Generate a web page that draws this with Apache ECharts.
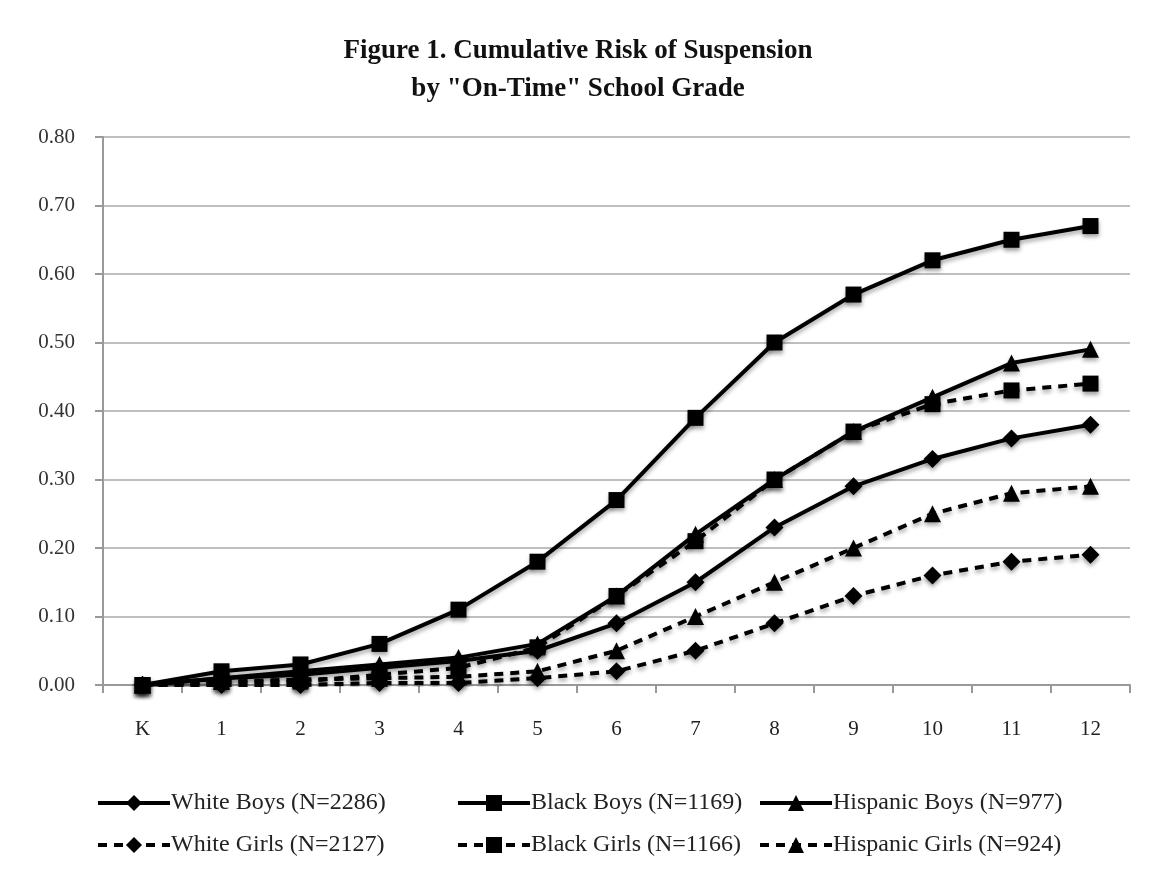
<!DOCTYPE html>
<html><head><meta charset="utf-8">
<script src="https://cdn.jsdelivr.net/npm/echarts@6/dist/echarts.min.js"></script>
<style>html,body{margin:0;padding:0;background:#fff}#c{width:1156px;height:871px}</style>
</head><body><div id="c"></div>
<script>
const grades = ['K','1','2','3','4','5','6','7','8','9','10','11','12'];
const yTicks = ['0.00','0.10','0.20','0.30','0.40','0.50','0.60','0.70','0.80'];
const whiteBoys = [0, 0.01, 0.015, 0.025, 0.035, 0.05, 0.09, 0.15, 0.23, 0.29, 0.33, 0.36, 0.38];
const blackBoys = [0, 0.02, 0.03, 0.06, 0.11, 0.18, 0.27, 0.39, 0.50, 0.57, 0.62, 0.65, 0.67];
const hispanicBoys = [0, 0.01, 0.02, 0.03, 0.04, 0.06, 0.13, 0.22, 0.30, 0.37, 0.42, 0.47, 0.49];
const whiteGirls = [0, 0, 0, 0.003, 0.003, 0.01, 0.02, 0.05, 0.09, 0.13, 0.16, 0.18, 0.19];
const blackGirls = [0, 0.005, 0.005, 0.015, 0.025, 0.055, 0.13, 0.21, 0.30, 0.37, 0.41, 0.43, 0.44];
const hispanicGirls = [0, 0.005, 0.008, 0.01, 0.012, 0.02, 0.05, 0.10, 0.15, 0.20, 0.25, 0.28, 0.29];
const seriesNames = ['White Boys (N=2286)','Black Boys (N=1169)','Hispanic Boys (N=977)','White Girls (N=2127)','Black Girls (N=1166)','Hispanic Girls (N=924)'];

const font = '"Liberation Serif", "DejaVu Serif", serif';
const chart = echarts.init(document.getElementById('c'));
function mk(name, data, symbol, dashed, size) {
  return {
    name, type: 'line', data, symbol, symbolSize: size, showSymbol: true,
    lineStyle: { color: '#000', width: 4, type: dashed ? [9, 7] : 'solid',
      shadowColor: 'rgba(0,0,0,0.35)', shadowBlur: 4, shadowOffsetY: 3 },
    itemStyle: { color: '#000', shadowColor: 'rgba(0,0,0,0.35)', shadowBlur: 4, shadowOffsetY: 3 },
    emphasis: { disabled: true }, animation: false, z: 3
  };
}
const series = [
  mk(seriesNames[5], hispanicGirls, 'triangle', true, 17),
  mk(seriesNames[3], whiteGirls, 'diamond', true, 18),
  mk(seriesNames[4], blackGirls, 'rect', true, 16),
  mk(seriesNames[0], whiteBoys, 'diamond', false, 18),
  mk(seriesNames[2], hispanicBoys, 'triangle', false, 17),
  mk(seriesNames[1], blackBoys, 'rect', false, 16)
];
const legendLefts = [91, 451, 753];
const legends = [];
seriesNames.forEach((n, i) => {
  legends.push({
    data: [n], left: legendLefts[i % 3], top: i < 3 ? 786 : 828,
    itemWidth: 72, itemHeight: 20, itemGap: 0,
    lineStyle: { width: 4 },
    textStyle: { fontFamily: font, fontSize: 24, color: '#222', padding: [0,0,0,-4] },
    selectedMode: false
  });
});
chart.setOption({
  animation: false,
  backgroundColor: '#fff',
  title: {
    text: 'Figure 1. Cumulative Risk of Suspension\nby "On-Time" School Grade',
    left: 'center', top: 27,
    textStyle: { fontFamily: font, fontSize: 27, fontWeight: 'bold', color: '#111', lineHeight: 38 }
  },
  legend: legends,
  grid: { left: 103, right: 26, top: 137, bottom: 186 },
  xAxis: {
    type: 'category', data: grades, boundaryGap: true,
    axisLine: { lineStyle: { color: '#999', width: 2 } },
    axisTick: { show: true, length: 8, lineStyle: { color: '#999', width: 2 }, alignWithLabel: false },
    axisLabel: { fontFamily: font, fontSize: 21, color: '#222', margin: 34 }
  },
  yAxis: {
    type: 'value', min: 0, max: 0.8, interval: 0.1,
    axisLine: { show: true, lineStyle: { color: '#999', width: 2 } },
    axisTick: { show: true, length: 8, lineStyle: { color: '#999', width: 2 } },
    splitLine: { lineStyle: { color: '#aaa', width: 1.5 } },
    axisLabel: { fontFamily: font, fontSize: 21, color: '#333', margin: 28,
      formatter: (v) => yTicks[Math.round(v * 10)] }
  },
  series
});
</script></body></html>
